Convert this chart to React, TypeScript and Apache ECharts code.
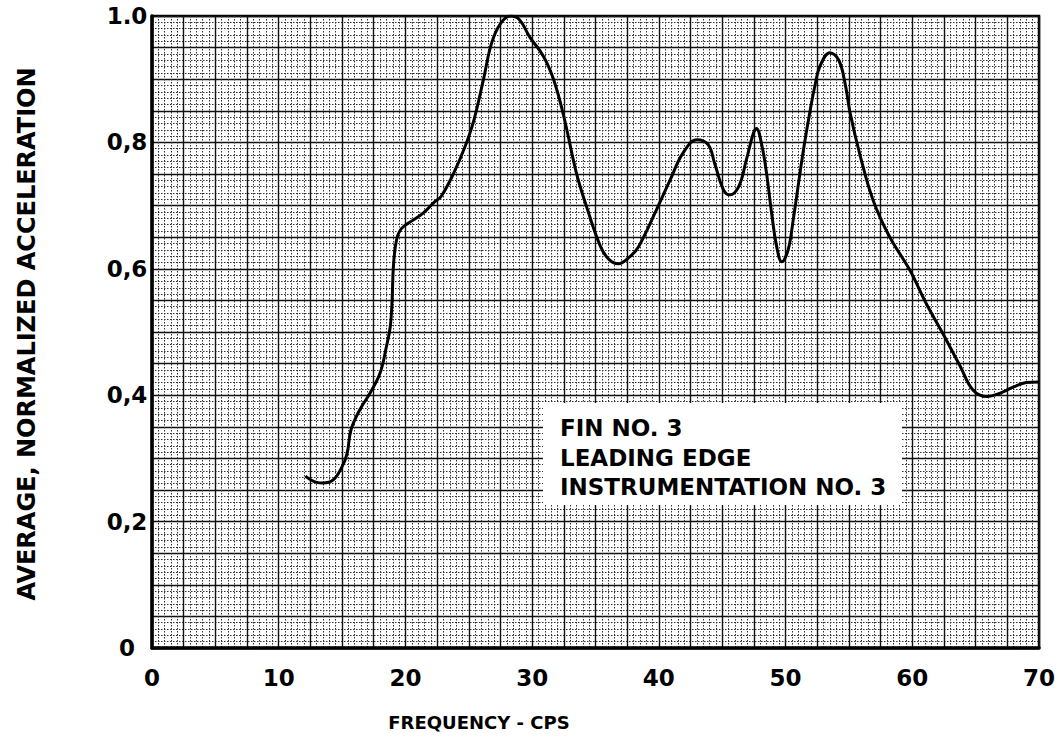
import React, { useEffect, useRef } from "react";
import * as echarts from "echarts";

const freq = [
  12.1, 13.0, 13.5, 14.3, 15.0, 15.4, 15.7, 16.4, 17.2, 18.0, 18.5, 18.8, 18.95, 19.05, 19.3, 19.7,
  20.6, 21.4, 22.3, 22.8, 23.8, 24.7, 25.4, 26.15, 26.8, 27.5, 28.3, 29.0, 29.8, 30.9, 31.7, 32.5,
  33.5, 34.3, 35.4, 36.1, 36.8, 37.7, 38.4, 39.8, 40.9, 41.9, 43.0, 43.9, 44.4, 45.1, 45.6, 46.3,
  46.9, 47.45, 47.7, 48.1, 48.5, 48.9, 49.3, 49.7, 50.2, 50.6, 51.35, 51.9, 52.3, 52.7, 53.5, 54.2,
  54.7, 55.1, 55.9, 56.9, 58.2, 59.8, 61.1, 62.4, 63.8, 64.8, 65.9, 66.9, 68.0, 69.0, 70.0,
];
const accel = [
  0.272, 0.262, 0.261, 0.266, 0.287, 0.308, 0.345, 0.377, 0.403, 0.435, 0.477, 0.508, 0.551, 0.603,
  0.646, 0.664, 0.677, 0.688, 0.706, 0.714, 0.751, 0.793, 0.835, 0.899, 0.957, 0.988, 1.0, 0.994,
  0.967, 0.936, 0.899, 0.841, 0.751, 0.698, 0.635, 0.614, 0.608, 0.619, 0.635, 0.693, 0.741, 0.783,
  0.804, 0.796, 0.767, 0.725, 0.717, 0.73, 0.772, 0.814, 0.822, 0.798, 0.751, 0.688, 0.635, 0.611,
  0.63, 0.677, 0.78, 0.846, 0.888, 0.92, 0.942, 0.93, 0.893, 0.846, 0.778, 0.709, 0.651, 0.598,
  0.545, 0.498, 0.445, 0.408, 0.398, 0.403, 0.413, 0.42, 0.421,
];
const xTickLabels = ["0", "10", "20", "30", "40", "50", "60", "70"];
const yTickLabels = ["0", "0,2", "0,4", "0,6", "0,8", "1.0"];
const boxLines = ["FIN NO. 3", "LEADING EDGE", "INSTRUMENTATION NO. 3"];
const xTitle = "FREQUENCY - CPS";
const yTitle = "AVERAGE, NORMALIZED ACCELERATION";

const FONT = "DejaVu Sans";

export default function App() {
  const ref = useRef<HTMLDivElement>(null);
  useEffect(() => {
    document.body.style.margin = "0";
    const chart = echarts.init(ref.current!, null, { renderer: "svg" });
    const major = { show: true, lineStyle: { color: "#111", width: 1.4 } };
    const minor = { show: true, lineStyle: { color: "#333", width: 1, type: [1.5, 1.5] as any } };
    chart.setOption({
      animation: false,
      backgroundColor: "#fff",
      grid: {
        left: 152,
        top: 16,
        right: 19,
        bottom: 92,
        show: true,
        borderColor: "#000",
        borderWidth: 2.5,
      },
      xAxis: [
        {
          type: "value",
          min: 0,
          max: 70,
          interval: 2.5,
          axisLabel: { show: false },
          axisTick: { show: false },
          axisLine: { show: true, lineStyle: { color: "#000", width: 3.5 } },
          splitLine: major,
          minorTick: { show: false, splitNumber: 5 },
          minorSplitLine: minor,
        },
        {
          type: "value",
          min: 0,
          max: 70,
          interval: 10,
          position: "bottom",
          axisLabel: {
            show: true,
            margin: 18,
            color: "#000",
            fontFamily: FONT,
            fontWeight: "bold",
            fontSize: 23,
            formatter: (v: number) => xTickLabels[Math.round(v / 10)] ?? "",
          },
          axisTick: { show: false },
          axisLine: { show: false },
          splitLine: { show: false },
        },
      ],
      yAxis: [
        {
          type: "value",
          min: 0,
          max: 1,
          interval: 0.05,
          axisLabel: { show: false },
          axisTick: { show: false },
          axisLine: { show: true, lineStyle: { color: "#000", width: 3.5 } },
          splitLine: major,
          minorTick: { show: false, splitNumber: 5 },
          minorSplitLine: minor,
        },
        {
          type: "value",
          min: 0,
          max: 1,
          interval: 0.2,
          position: "left",
          offset: 0,
          axisLabel: {
            show: true,
            margin: 25,
            align: "center",
            color: "#000",
            fontFamily: FONT,
            fontWeight: "bold",
            fontSize: 23,
            formatter: (v: number) => yTickLabels[Math.round(v / 0.2)] ?? "",
          },
          axisTick: { show: false },
          axisLine: { show: false },
          splitLine: { show: false },
        },
      ],
      series: [
        {
          type: "line",
          xAxisIndex: 0,
          yAxisIndex: 0,
          data: freq.map((f, i) => [f, accel[i]]),
          smooth: 0.4,
          showSymbol: false,
          lineStyle: { color: "#000", width: 3 },
          z: 5,
        },
      ],
      graphic: [
        {
          type: "rect",
          shape: { x: 543, y: 403, width: 359, height: 102 },
          style: { fill: "#fff" },
          z: 10,
        },
        ...boxLines.map((t, i) => ({
          type: "text",
          x: 560,
          y: 428 + i * 29.5,
          z: 11,
          style: {
            text: t,
            fill: "#000",
            font: `bold 23px "${FONT}"`,
            verticalAlign: "middle",
          },
        })),
        {
          type: "text",
          x: 479,
          y: 722,
          z: 11,
          style: {
            text: xTitle,
            fill: "#000",
            font: `bold 18px "${FONT}"`,
            align: "center",
            verticalAlign: "middle",
          },
        },
        {
          type: "text",
          x: 27,
          y: 334,
          rotation: Math.PI / 2,
          z: 11,
          style: {
            text: yTitle,
            fill: "#000",
            font: `bold 24px "${FONT}"`,
            align: "center",
            verticalAlign: "middle",
          },
        },
      ],
    });
    return () => chart.dispose();
  }, []);
  return (
    <div
      ref={ref}
      style={{ position: "fixed", left: 0, top: 0, width: 1058, height: 740, background: "#fff" }}
    />
  );
}
